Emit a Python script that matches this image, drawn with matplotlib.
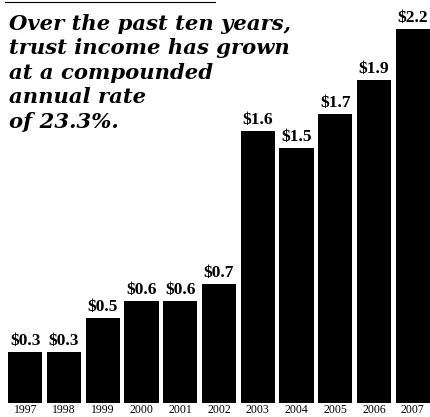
import matplotlib

matplotlib.use("Agg")
import matplotlib.pyplot as plt
from matplotlib.lines import Line2D

YEARS = ["1997", "1998", "1999", "2000", "2001", "2002",
         "2003", "2004", "2005", "2006", "2007"]
INCOME = [0.3, 0.3, 0.5, 0.6, 0.6, 0.7, 1.6, 1.5, 1.7, 1.9, 2.2]
TITLE_LINES = [
    "Over the past ten years,",
    "trust income has grown",
    "at a compounded",
    "annual rate",
    "of 23.3%.",
]

W, H = 430, 417
fig = plt.figure(figsize=(W / 100, H / 100), dpi=100)
fig.patch.set_facecolor("white")

# axes placed in pixel terms: bars run from x=8 to the right edge, base at y=403
ax = fig.add_axes([8 / W, 14 / H, 422 / W, 391 / H])
x = list(range(len(YEARS)))
ax.bar(x, INCOME, width=0.89, color="black")
ax.set_xlim(-0.445, len(YEARS) - 0.555)
ax.set_ylim(0, 2.3)
ax.axis("off")

for xi, v in zip(x, INCOME):
    ax.annotate(f"${v:.1f}", (xi, v), xytext=(0, 2), textcoords="offset points",
                ha="center", va="bottom", fontsize=12.5, fontweight="bold",
                family="Liberation Serif")
    ax.annotate(YEARS[xi], (xi, 0), xytext=(0, -1), textcoords="offset points",
                ha="center", va="top", fontsize=8.5, family="Liberation Serif")

baselines = [30, 54, 79, 103, 128]
for line, yb in zip(TITLE_LINES, baselines):
    fig.text(9 / W, 1 - yb / H, line, ha="left", va="baseline",
             fontsize=15.2, fontweight="bold", fontstyle="italic",
             family="DejaVu Serif")

fig.add_artist(Line2D([5 / W, 215 / W], [1 - 1.5 / H, 1 - 1.5 / H],
                      color="black", linewidth=0.8))

fig.savefig("out.png", dpi=100)
